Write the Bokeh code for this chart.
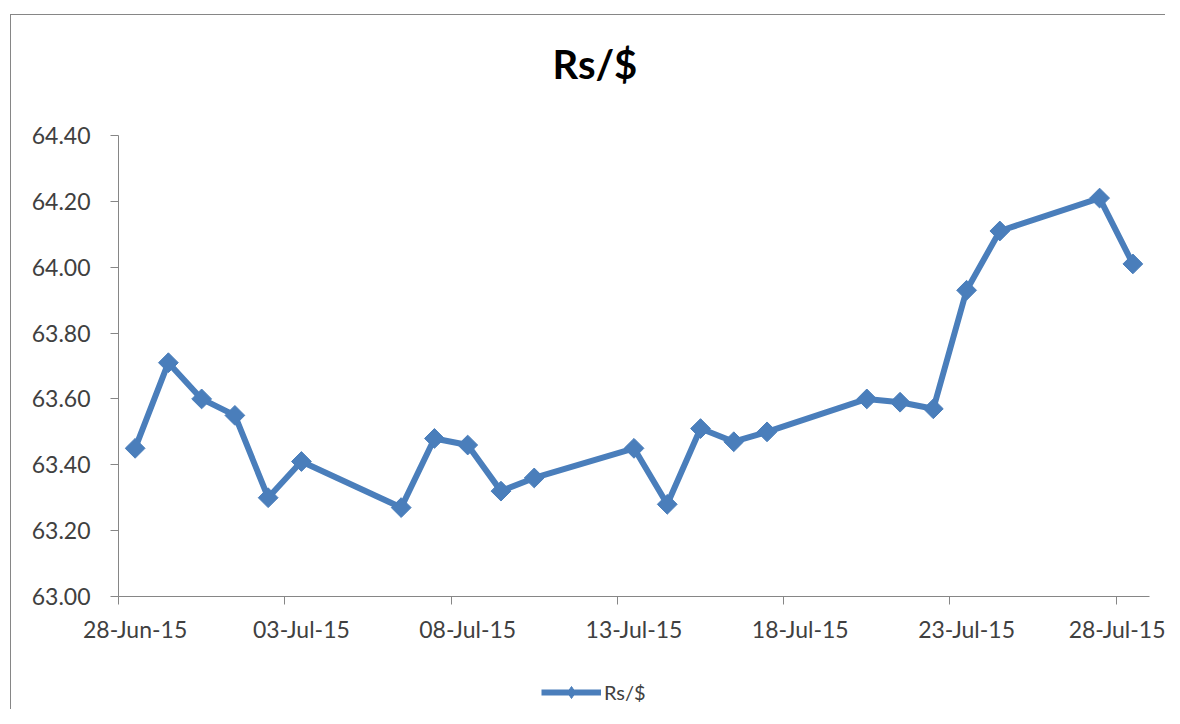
import numpy as np
import pandas as pd
from bokeh.plotting import figure
from bokeh.layouts import column
from bokeh.models import (Range1d, FixedTicker, DatetimeAxis, Legend, LegendItem,
                          Title, PrintfTickFormatter)
from bokeh.embed import file_html
from bokeh.resources import INLINE

# ---- data ----
dates = ["2015-06-28", "2015-06-29", "2015-06-30", "2015-07-01", "2015-07-02", "2015-07-03",
         "2015-07-06", "2015-07-07", "2015-07-08", "2015-07-09", "2015-07-10",
         "2015-07-13", "2015-07-14", "2015-07-15", "2015-07-16", "2015-07-17",
         "2015-07-20", "2015-07-21", "2015-07-22", "2015-07-23", "2015-07-24",
         "2015-07-27", "2015-07-28"]
rates = [63.45, 63.71, 63.60, 63.55, 63.30, 63.41,
         63.27, 63.48, 63.46, 63.32, 63.36,
         63.45, 63.28, 63.51, 63.47, 63.50,
         63.60, 63.59, 63.57, 63.93, 64.11,
         64.21, 64.01]
series_name = "Rs/$"
chart_title = "Rs/$"
x_tick_dates = ["2015-06-28", "2015-07-03", "2015-07-08", "2015-07-13",
                "2015-07-18", "2015-07-23", "2015-07-28"]
x_tick_labels = ["28-Jun-15", "03-Jul-15", "08-Jul-15", "13-Jul-15",
                 "18-Jul-15", "23-Jul-15", "28-Jul-15"]
x_start, x_end = "2015-06-28", "2015-07-29"
y_ticks = [63.00, 63.20, 63.40, 63.60, 63.80, 64.00, 64.20, 64.40]

# ---- style ----
BLUE = "#4A7EBB"
GREY = "#868686"
TXT = "#404040"
FONT = "Lato"
W = 1154

half_day = pd.Timedelta(hours=12)   # date-axis "between tick marks": value sits mid-day
x = pd.to_datetime(dates) + half_day

def ms(ts):
    return float(pd.Timestamp(ts).value // 10**6)

# ---------------- main chart ----------------
p = figure(width=W, height=646, x_axis_type="datetime",
           x_range=Range1d(pd.Timestamp(x_start), pd.Timestamp(x_end)),
           y_range=Range1d(y_ticks[0], y_ticks[-1]),
           output_backend="svg", toolbar_location=None,
           min_border_left=107, min_border_right=16,
           min_border_top=120, min_border_bottom=65)
p.grid.visible = False
p.outline_line_color = None
p.background_fill_color = "white"
p.border_fill_color = "white"

line_r = p.line(x, rates, line_width=6, color=BLUE, line_join="round")
pts_r = p.scatter(x, rates, marker="square", angle=np.pi / 4, size=14,
                  fill_color=BLUE, line_color=BLUE)

# tick-mark axis (day-slot boundaries)
ax1 = p.xaxis[0]
ax1.ticker = FixedTicker(ticks=[ms(d) for d in x_tick_dates])
ax1.major_tick_out = 8
ax1.major_tick_in = 0
ax1.minor_tick_line_color = None
ax1.axis_line_color = GREY
ax1.major_tick_line_color = GREY
ax1.major_label_text_font_size = "1px"
ax1.major_label_text_alpha = 0
ax1.major_label_standoff = 0

# label axis (labels centred in the day slot)
lab_pos = [ms(pd.Timestamp(d) + half_day) for d in x_tick_dates]
ax2 = DatetimeAxis(ticker=FixedTicker(ticks=lab_pos),
                   major_label_overrides={v: t for v, t in zip(lab_pos, x_tick_labels)})
ax2.axis_line_color = None
ax2.major_tick_line_color = None
ax2.minor_tick_line_color = None
ax2.major_label_text_font = FONT
ax2.major_label_text_font_size = "23px"
ax2.major_label_text_color = TXT
ax2.major_label_standoff = 4
p.add_layout(ax2, "below")

ay = p.yaxis[0]
ay.ticker = FixedTicker(ticks=y_ticks)
ay.formatter = PrintfTickFormatter(format="%.2f")
ay.major_tick_out = 8
ay.major_tick_in = 0
ay.minor_tick_line_color = None
ay.axis_line_color = GREY
ay.major_tick_line_color = GREY
ay.major_label_text_font = FONT
ay.major_label_text_font_size = "23px"
ay.major_label_text_color = TXT
ay.major_label_standoff = 20

# spacer between frame and title, then the title itself
p.add_layout(Title(text=" ", text_font_size="1px", standoff=40), "above")
p.add_layout(Title(text=chart_title, align="left", offset=434, standoff=10,
                   text_font=FONT, text_font_style="bold", text_font_size="40px",
                   text_color="#000000"), "above")

# ---------------- legend strip ----------------
q = figure(width=W, height=48, x_axis_type=None, y_axis_type=None,
           x_range=Range1d(pd.Timestamp(x_start), pd.Timestamp(x_end)),
           y_range=Range1d(0, 1),
           output_backend="svg", toolbar_location=None,
           min_border=0, min_border_left=0, min_border_right=0,
           min_border_top=0, min_border_bottom=0)
q.outline_line_color = None
q.background_fill_color = "white"
q.border_fill_color = "white"
leg_line = q.line(x, rates, line_width=6, color=BLUE)
leg_pts = q.scatter(x, rates, marker="diamond", size=18, fill_color=BLUE, line_color=BLUE)

legend = Legend(items=[LegendItem(label=series_name, renderers=[leg_line, leg_pts])],
                location=(423, 2), glyph_width=60, glyph_height=30,
                label_height=30, label_standoff=3,
                padding=0, margin=0, spacing=0,
                border_line_color=None, background_fill_alpha=0,
                label_text_font=FONT, label_text_font_size="20px",
                label_text_color=TXT)
q.add_layout(legend)

page = column(p, q, spacing=0)
page.margin = (14, 0, 0, 10)
page.styles = {"border-left": "1px solid #868686", "border-top": "1px solid #868686"}

open("out.html", "w").write(file_html(page, INLINE))
